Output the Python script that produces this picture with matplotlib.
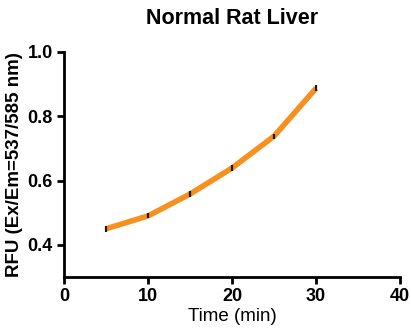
import matplotlib
matplotlib.use("Agg")
import matplotlib.pyplot as plt

time_min = [5, 10, 15, 20, 25, 30]
rfu = [0.450, 0.490, 0.558, 0.639, 0.738, 0.887]
rfu_err = [0.010, 0.008, 0.009, 0.009, 0.008, 0.009]
x_ticks = [0, 10, 20, 30, 40]
y_ticks = [0.4, 0.6, 0.8, 1.0]

plt.rcParams['font.family'] = ['Liberation Sans', 'DejaVu Sans']

fig = plt.figure(figsize=(4.11, 3.33), dpi=100)
ax = fig.add_axes([64/411, 56/333, 336/411, 225/333])

ax.plot(time_min, rfu, color='#F7901E', lw=4, solid_capstyle='butt', zorder=2)
ax.errorbar(time_min, rfu, yerr=rfu_err, fmt='none', ecolor='#1a1a1a', elinewidth=1.6, capsize=0, zorder=3)

ax.set_xlim(0, 40)
ax.set_ylim(0.3, 1.0)
ax.set_xticks(x_ticks)
ax.set_xticklabels([str(t) for t in x_ticks])
ax.set_yticks(y_ticks)
ax.set_yticklabels([f"{v:.1f}" for v in y_ticks])

for s in ['top', 'right']:
    ax.spines[s].set_visible(False)
for s in ['left', 'bottom']:
    ax.spines[s].set_linewidth(2)
ax.tick_params(direction='out', length=5, width=2, labelsize=13, pad=3)
for lbl in ax.get_xticklabels() + ax.get_yticklabels():
    lbl.set_fontweight('bold')

ax.set_xlabel('Time (min)', fontsize=13.5, labelpad=2)
ax.set_ylabel('RFU (Ex/Em=537/585 nm)', fontsize=13.5, fontweight='bold', labelpad=3)
fig.text(0.565, 0.945, 'Normal Rat Liver', ha='center', va='center', fontsize=15.5, fontweight='bold')

fig.savefig('out.png', dpi=100)
